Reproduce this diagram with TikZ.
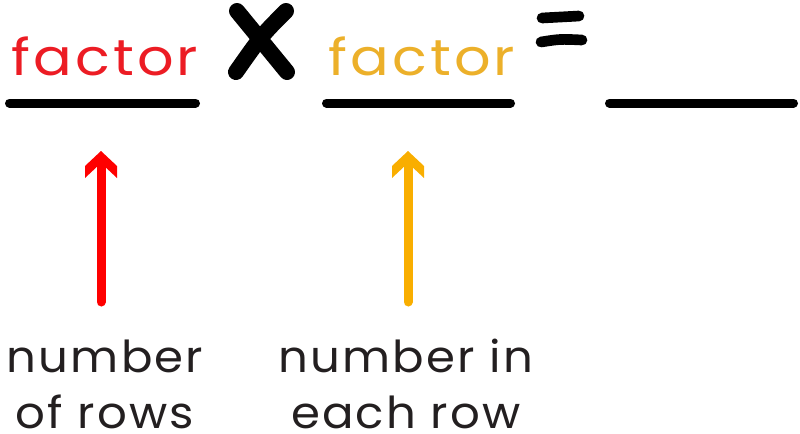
\documentclass[tikz,border=0pt]{standalone}
\usepackage{fontspec}
\setmainfont{Poppins}
\newfontfamily\facfont[FakeStretch=1.13,LetterSpace=6]{Poppins}
\newfontfamily\labfont[FakeStretch=1.06,LetterSpace=5]{Poppins}
\definecolor{facred}{HTML}{EC1C24}
\definecolor{facorange}{HTML}{ECB02A}
\definecolor{arrred}{HTML}{FF0000}
\definecolor{arrorange}{HTML}{F9AE00}
\definecolor{ink}{HTML}{231F20}
\begin{document}
\begin{tikzpicture}[x=0.75pt,y=-0.75pt,
  factortext/.style={anchor=base,inner sep=0pt,font=\facfont\fontsize{38}{40}\selectfont},
  labeltext/.style={anchor=base,inner sep=0pt,align=center,font=\labfont\fontsize{33}{42}\selectfont,text=ink},
  blank/.style={line width=6.75pt,line cap=round,draw=black},
  sym/.style={line cap=round,draw=black},
  shaft/.style={line width=6.75pt,line cap=round}]
\useasboundingbox (0,0) rectangle (800,433);
% factors
\node[factortext,text=facred] (f1) at (105,75) {factor};
\node[factortext,text=facorange] (f2) at (422,75) {factor};
% blanks
\coordinate (b1l) at (9.5,103); \coordinate (b1r) at (195.5,103);
\coordinate (b2l) at (326.5,103); \coordinate (b2r) at (510.5,103);
\coordinate (b3l) at (609.5,103); \coordinate (b3r) at (793.5,103);
\draw[blank] (b1l) -- (b1r);
\draw[blank] (b2l) -- (b2r);
\draw[blank] (b3l) -- (b3r);
% times sign
\coordinate (x1) at (237,11); \coordinate (x2) at (287,72);
\coordinate (x3) at (286,11); \coordinate (x4) at (236,72);
\draw[sym,line width=12pt] (x1) -- (x2);
\draw[sym,line width=12pt] (x3) .. controls (262,35) .. (x4);
% equals sign
\coordinate (e1) at (542,18); \coordinate (e2) at (579,16);
\coordinate (e3) at (541,42); \coordinate (e4) at (582,40);
\draw[sym,line width=8pt] (e1) -- (e2);
\draw[sym,line width=8pt] (e3) .. controls (560,39) .. (e4);
% arrows
\coordinate (r0) at (101,302); \coordinate (rt) at (101,151);
\draw[shaft,draw=arrred] (r0) -- (101,166);
\fill[arrred] (rt) -- ++(16,15) -- ++(0,12) -- ++(-16,-15) -- ++(-16,15) -- ++(0,-12) -- cycle;
\coordinate (o0) at (408,302); \coordinate (ot) at (408,151);
\draw[shaft,draw=arrorange] (o0) -- (408,166);
\fill[arrorange] (ot) -- ++(16,15) -- ++(0,12) -- ++(-16,-15) -- ++(-16,15) -- ++(0,-12) -- cycle;
% labels
\node[labeltext] (l1) at (105,428) {number\\of rows};
\node[labeltext] (l2) at (406,428) {number in\\each row};
\end{tikzpicture}
\end{document}
